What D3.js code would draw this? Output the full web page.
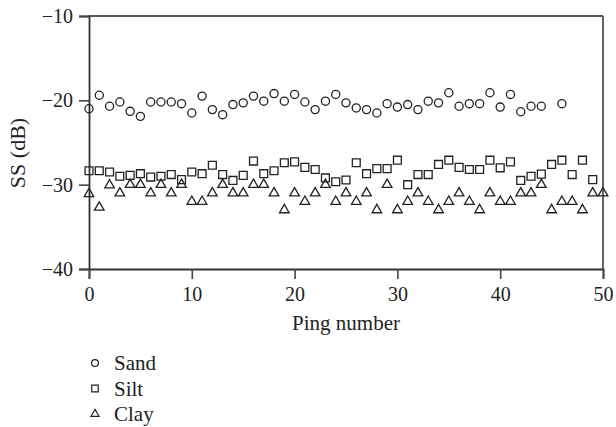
<!DOCTYPE html>
<html>
<head>
<meta charset="utf-8">
<script src="https://cdn.jsdelivr.net/npm/d3@7"></script>
<style>
  body { margin: 0; background: #fff; }
  svg text { font-family: "Liberation Serif", "DejaVu Serif", serif; fill: #222; }
</style>
</head>
<body>
<svg width="616" height="427"></svg>
<script>
// ping numbers 0..50
var pings = d3.range(0, 51);

// readings per ping (null = no point)
var sand = [-21.0, -19.4, -20.7, -20.2, -21.3, -21.9, -20.2, -20.2, -20.2, -20.4,
    -21.5, -19.5, -21.1, -21.7, -20.5, -20.3, -19.5, -20.1, -19.2, -20.1,
    -19.3, -20.2, -21.1, -20.1, -19.3, -20.3, -20.9, -21.1, -21.5, -20.4,
    -20.8, -20.5, -21.1, -20.1, -20.3, -19.1, -20.7, -20.4, -20.4, -19.1,
    -20.8, -19.3, -21.35, -20.7, -20.7, null, -20.4, null, null, null, null];
var silt = [-28.35, -28.35, -28.5, -29.0, -28.9, -28.7, -29.1, -29.0, -28.8, -29.4,
    -28.5, -28.7, -27.7, -28.8, -29.5, -28.9, -27.2, -28.7, -28.35, -27.4,
    -27.3, -27.95, -28.2, -29.2, -29.65, -29.45, -27.4, -28.7, -28.1, -28.1,
    -27.1, -30.0, -28.8, -28.8, -27.6, -27.1, -27.95, -28.2, -28.2, -27.1,
    -28.0, -27.3, -29.5, -29.0, -28.75, -27.6, -27.1, -28.8, -27.1, -29.4, null];
var clay = [-31.1, -32.7, -30.05, -31, -30, -30, -31, -30, -31, -30,
    -32, -32, -31, -30, -31, -31, -30, -30, -31, -33,
    -31, -32, -31, -30, -32, -31, -32, -31, -33, -30,
    -33, -32, -31, -32, -33, -32, -31, -32, -33, -31,
    -32, -32, -31, -31, -30, -33, -32, -32, -33, -31, -31];

var seriesNames = ["Sand", "Silt", "Clay"];
var xTicks = [0, 10, 20, 30, 40, 50];
var yTicks = [-10, -20, -30, -40];

var svg = d3.select("svg"),
    margin = {top: 16, right: 13, bottom: 158, left: 89},
    width = +svg.attr("width") - margin.left - margin.right,
    height = +svg.attr("height") - margin.top - margin.bottom,
    g = svg.append("g").attr("transform", "translate(" + margin.left + "," + margin.top + ")");

var x = d3.scaleLinear().domain([0, 50]).range([0, width]);
var y = d3.scaleLinear().domain([-40, -10]).range([height, 0]);

var shapes = {Sand: d3.symbolCircle, Silt: d3.symbolSquare, Clay: d3.symbolTriangle};
var sizes = {Sand: 52, Silt: 62, Clay: 40};
var values = {Sand: sand, Silt: silt, Clay: clay};

var fmt = d => (d < 0 ? "\u2212" : "") + Math.abs(d);

// frame: top and right
g.append("line")
    .attr("x1", x(0)).attr("x2", x(50)).attr("y1", y(-10)).attr("y2", y(-10))
    .attr("stroke", "#555").attr("stroke-width", 1.8);
g.append("line")
    .attr("x1", x(50)).attr("x2", x(50)).attr("y1", y(-10)).attr("y2", y(-40))
    .attr("stroke", "#555").attr("stroke-width", 1.8);

var yAxis = g.append("g")
    .call(d3.axisLeft(y).tickValues(yTicks).tickSize(10).tickPadding(6).tickFormat(fmt));
var xAxis = g.append("g")
    .attr("transform", "translate(0," + height + ")")
    .call(d3.axisBottom(x).tickValues(xTicks).tickSize(10).tickPadding(8).tickFormat(fmt));

[yAxis, xAxis].forEach(a => {
    a.select(".domain").attr("stroke", "#333").attr("stroke-width", 1.8);
    a.selectAll(".tick line").attr("stroke", "#444").attr("stroke-width", 1.6);
    a.selectAll(".tick text").attr("font-size", 20).attr("fill", "#222")
        .style("font-family", "'Liberation Serif', serif");
});

// points
seriesNames.forEach(name => {
    var pts = pings.map((p, i) => ({p: p, v: values[name][i]})).filter(d => d.v !== null);
    g.append("g").selectAll("path")
        .data(pts)
        .enter().append("path")
        .attr("transform", d => "translate(" + x(d.p) + "," + y(d.v) + ")")
        .attr("d", d3.symbol().type(shapes[name]).size(sizes[name]))
        .attr("fill", "none")
        .attr("stroke", "#222")
        .attr("stroke-width", 1.3);
});

// axis titles
svg.append("text")
    .attr("transform", "translate(25,153) rotate(-90)")
    .attr("text-anchor", "middle")
    .attr("font-size", 22)
    .text("SS (dB)");
svg.append("text")
    .attr("x", margin.left + width / 2)
    .attr("y", 330)
    .attr("text-anchor", "middle")
    .attr("font-size", 21)
    .text("Ping number");

// legend
var legend = svg.append("g").attr("transform", "translate(95,363)");
var item = legend.selectAll("g")
    .data(seriesNames)
    .enter().append("g")
    .attr("transform", (d, i) => "translate(0," + i * 25.5 + ")");
item.append("path")
    .attr("d", d => d3.symbol().type(shapes[d]).size(sizes[d] * 0.7)())
    .attr("fill", "none")
    .attr("stroke", "#222")
    .attr("stroke-width", 1.2);
item.append("text")
    .attr("x", 19)
    .attr("y", 7)
    .attr("font-size", 21)
    .text(d => d);
</script>
</body>
</html>
